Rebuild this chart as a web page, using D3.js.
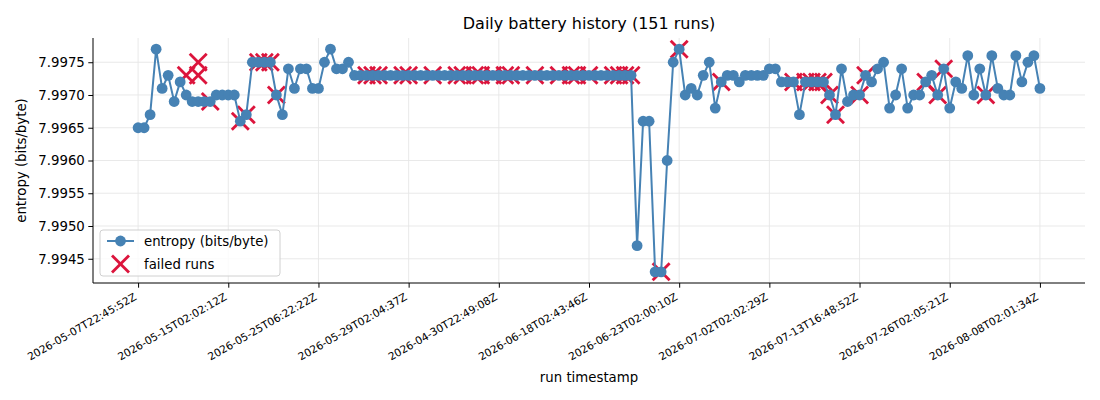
<!DOCTYPE html>
<html lang="en">
<head>
  <meta charset="UTF-8">
  <title>Daily battery history</title>
  <script src="https://d3js.org/d3.v7.min.js"></script>
  <style>
    body {
      margin: 0;
      font-family: 'DejaVu Sans', sans-serif;
    }
    .grid line {
      stroke: #e6e6e6;
      stroke-width: 0.9;
    }
    .line {
      fill: none;
      stroke: #4682b4; /* steelblue */
      stroke-width: 2;
    }
    .dot {
      fill: #4682b4;
    }
    .fail {
      stroke: #dc143c; /* crimson */
      stroke-width: 2.8;
    }
    .axis path, .axis line {
      stroke: #000;
      stroke-width: 1;
    }
    .axis text {
      fill: #000;
      font-family: 'DejaVu Sans', sans-serif;
    }
  </style>
</head>
<body>
  <svg width="1100" height="400"></svg>
  <script>
    // entropy per run, in run order (index 0..150)
    const entropy = [
      7.9965, 7.9965, 7.9967, 7.9977, 7.9971, 7.9973, 7.9969, 7.9972, 7.9970, 7.9969,
      7.9969, 7.9969, 7.9969, 7.9970, 7.9970, 7.9970, 7.9970, 7.9966, 7.9967, 7.9975,
      7.9975, 7.9975, 7.9975, 7.9970, 7.9967, 7.9974, 7.9971, 7.9974, 7.9974, 7.9971,
      7.9971, 7.9975, 7.9977, 7.9974, 7.9974, 7.9975, 7.9973, 7.9973, 7.9973, 7.9973,
      7.9973, 7.9973, 7.9973, 7.9973, 7.9973, 7.9973, 7.9973, 7.9973, 7.9973, 7.9973,
      7.9973, 7.9973, 7.9973, 7.9973, 7.9973, 7.9973, 7.9973, 7.9973, 7.9973, 7.9973,
      7.9973, 7.9973, 7.9973, 7.9973, 7.9973, 7.9973, 7.9973, 7.9973, 7.9973, 7.9973,
      7.9973, 7.9973, 7.9973, 7.9973, 7.9973, 7.9973, 7.9973, 7.9973, 7.9973, 7.9973,
      7.9973, 7.9973, 7.9973, 7.9947, 7.9966, 7.9966, 7.9943, 7.9943, 7.9960, 7.9975,
      7.9977, 7.9970, 7.9971, 7.9970, 7.9973, 7.9975, 7.9968, 7.9972, 7.9973, 7.9973,
      7.9972, 7.9973, 7.9973, 7.9973, 7.9973, 7.9974, 7.9974, 7.9972, 7.9972, 7.9972,
      7.9967, 7.9972, 7.9972, 7.9972, 7.9972, 7.9970, 7.9967, 7.9974, 7.9969, 7.9970,
      7.9970, 7.9973, 7.9972, 7.9974, 7.9975, 7.9968, 7.9970, 7.9974, 7.9968, 7.9970,
      7.9970, 7.9972, 7.9973, 7.9970, 7.9974, 7.9968, 7.9972, 7.9971, 7.9976, 7.9970,
      7.9974, 7.9970, 7.9976, 7.9971, 7.9970, 7.9970, 7.9976, 7.9972, 7.9975, 7.9976,
      7.9971
    ];

    // failed runs: run index and the entropy they were marked at
    const failedIdx = [
      8, 10, 10, 12, 17, 18, 20, 21, 22, 23,
      38, 39, 40, 44, 45, 49, 53, 54, 56, 57, 59, 61, 62, 66, 70, 72, 73, 75, 79, 80, 81, 82,
      87, 90, 97, 109, 111, 112, 113, 114, 115, 116, 120, 121, 131, 133, 134, 141
    ];
    const failedVal = [
      7.9973, 7.9975, 7.9973, 7.9969, 7.9966, 7.9967, 7.9975, 7.9975, 7.9975, 7.9970,
      7.9973, 7.9973, 7.9973, 7.9973, 7.9973, 7.9973, 7.9973, 7.9973, 7.9973, 7.9973, 7.9973,
      7.9973, 7.9973, 7.9973, 7.9973, 7.9973, 7.9973, 7.9973, 7.9973, 7.9973, 7.9973, 7.9973,
      7.9943, 7.9977, 7.9972, 7.9972, 7.9972, 7.9972, 7.9972, 7.9972, 7.9970, 7.9967, 7.9970,
      7.9973, 7.9972, 7.9970, 7.9974, 7.9970
    ];

    const xTicks = [0, 15, 30, 45, 60, 75, 90, 105, 120, 135, 150];
    const xTickLabels = [
      "2026-05-07T22:45:52Z", "2026-05-15T02:02:12Z", "2026-05-25T06:22:22Z",
      "2026-05-29T02:04:37Z", "2026-04-30T22:49:08Z", "2026-06-18T02:43:46Z",
      "2026-06-23T02:00:10Z", "2026-07-02T02:02:29Z", "2026-07-13T16:48:52Z",
      "2026-07-26T02:05:21Z", "2026-08-08T02:01:34Z"
    ];
    const yTicks = [7.9945, 7.9950, 7.9955, 7.9960, 7.9965, 7.9970, 7.9975];

    const svg = d3.select("svg");
    const margin = { top: 38, right: 15, bottom: 117, left: 93 };
    const width = svg.attr("width") - margin.left - margin.right;
    const height = svg.attr("height") - margin.top - margin.bottom;
    const g = svg.append("g").attr("transform", `translate(${margin.left},${margin.top})`);

    const n = entropy.length;
    const yMin = d3.min(entropy), yMax = d3.max(entropy);
    const yPad = (yMax - yMin) * 0.05;
    const xPad = (n - 1) * 0.05;

    const x = d3.scaleLinear().range([0, width]).domain([-xPad, n - 1 + xPad]);
    const y = d3.scaleLinear().range([height, 0]).domain([yMin - yPad, yMax + yPad]);

    const data = entropy.map((v, i) => ({ x: i, y: v }));
    const failed = failedIdx.map((i, k) => ({ x: i, y: failedVal[k] }));

    // grid
    g.append("g")
      .attr("class", "grid")
      .selectAll("line.gx")
      .data(xTicks)
      .join("line")
      .attr("x1", d => x(d)).attr("x2", d => x(d))
      .attr("y1", 0).attr("y2", height);
    g.append("g")
      .attr("class", "grid")
      .selectAll("line.gy")
      .data(yTicks)
      .join("line")
      .attr("x1", 0).attr("x2", width)
      .attr("y1", d => y(d)).attr("y2", d => y(d));

    // failed run markers sit beneath the line
    const xSize = 8.5;
    const crosses = g.append("g")
      .selectAll("g")
      .data(failed)
      .join("g")
      .attr("transform", d => `translate(${x(d.x)},${y(d.y)})`);
    crosses.append("line").attr("class", "fail")
      .attr("x1", -xSize).attr("y1", -xSize).attr("x2", xSize).attr("y2", xSize);
    crosses.append("line").attr("class", "fail")
      .attr("x1", -xSize).attr("y1", xSize).attr("x2", xSize).attr("y2", -xSize);

    const line = d3.line()
      .x(d => x(d.x))
      .y(d => y(d.y));

    g.append("path")
      .datum(data)
      .attr("class", "line")
      .attr("d", line);

    g.append("g")
      .selectAll("circle")
      .data(data)
      .join("circle")
      .attr("class", "dot")
      .attr("cx", d => x(d.x))
      .attr("cy", d => y(d.y))
      .attr("r", 5.4);

    // axes
    const yAxis = g.append("g")
      .attr("class", "axis")
      .call(d3.axisLeft(y).tickValues(yTicks).tickFormat(d3.format(".4f")).tickSize(4.7).tickPadding(3.5));
    yAxis.selectAll("text").style("font-size", "13.3px");
    yAxis.select(".domain").attr("d", `M0,0V${height}`);

    const xAxis = g.append("g")
      .attr("class", "axis")
      .attr("transform", `translate(0,${height})`)
      .call(d3.axisBottom(x).tickValues(xTicks).tickFormat((d, i) => xTickLabels[i]).tickSize(4.7));
    xAxis.select(".domain").attr("d", `M0,0H${width}`);
    xAxis.selectAll("text")
      .style("font-size", "10.67px")
      .attr("text-anchor", "end")
      .attr("dy", null)
      .attr("y", null)
      .attr("transform", "translate(-1.3,16) rotate(-30)");

    // titles
    svg.append("text")
      .attr("x", margin.left + width / 2)
      .attr("y", 29)
      .attr("text-anchor", "middle")
      .style("font-size", "16px")
      .text(`Daily battery history (${n} runs)`);

    svg.append("text")
      .attr("x", margin.left + width / 2)
      .attr("y", 382)
      .attr("text-anchor", "middle")
      .style("font-size", "13.3px")
      .text("run timestamp");

    svg.append("text")
      .attr("transform", `translate(26,${margin.top + height / 2}) rotate(-90)`)
      .attr("text-anchor", "middle")
      .style("font-size", "13.3px")
      .text("entropy (bits/byte)");

    // legend
    const legend = g.append("g").attr("transform", "translate(7,192)");
    legend.append("rect")
      .attr("width", 180).attr("height", 46)
      .attr("rx", 3)
      .attr("fill", "#fff").attr("fill-opacity", 0.8)
      .attr("stroke", "#d0d0d0");
    legend.append("line").attr("class", "line")
      .attr("x1", 7).attr("x2", 34).attr("y1", 11).attr("y2", 11);
    legend.append("circle").attr("class", "dot")
      .attr("cx", 20.5).attr("cy", 11).attr("r", 5.4);
    legend.append("text")
      .attr("x", 44).attr("y", 15.5)
      .style("font-size", "13.3px")
      .text("entropy (bits/byte)");
    legend.append("line").attr("class", "fail")
      .attr("x1", 20.5 - xSize).attr("y1", 34 - xSize).attr("x2", 20.5 + xSize).attr("y2", 34 + xSize);
    legend.append("line").attr("class", "fail")
      .attr("x1", 20.5 - xSize).attr("y1", 34 + xSize).attr("x2", 20.5 + xSize).attr("y2", 34 - xSize);
    legend.append("text")
      .attr("x", 44).attr("y", 38.5)
      .style("font-size", "13.3px")
      .text("failed runs");
  </script>
</body>
</html>
